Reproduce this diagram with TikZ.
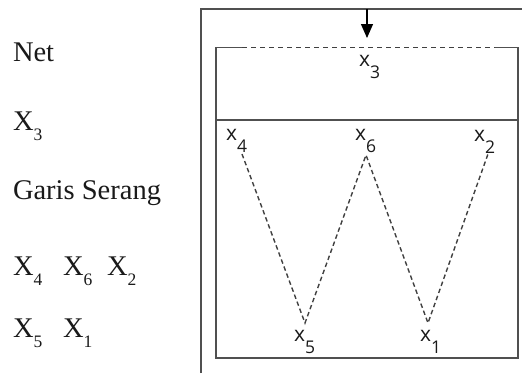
\documentclass[tikz,border=0pt]{standalone}
\usepackage{fontspec}
\setmainfont{Liberation Serif}
\newfontfamily\labfont{Open Sans}
\usetikzlibrary{arrows.meta}
\definecolor{linegray}{HTML}{505050}
\definecolor{dashgray}{HTML}{404040}
\definecolor{txt}{HTML}{1A1A1A}
\tikzset{
  lefttext/.style={anchor=base west, inner sep=0pt, outer sep=0pt, text=txt, font=\fontsize{28.5}{28.5}\selectfont},
  boxlab/.style={anchor=base west, inner sep=0pt, outer sep=0pt, text=txt, font=\labfont\fontsize{21}{21}\selectfont},
  frame/.style={draw=linegray, line width=1.7pt},
  wline/.style={draw=dashgray, line width=1.4pt, dash pattern=on 4.5pt off 3pt},
}
\newcommand{\lsub}[1]{\raisebox{-10pt}{\fontsize{17.5}{17.5}\selectfont #1}}
\newcommand{\bsub}[1]{\raisebox{-12.5pt}{\fontsize{17.5}{17.5}\selectfont #1}}
\begin{document}
\begin{tikzpicture}[x=1pt,y=-1pt]
\useasboundingbox (0,0) rectangle (522,373);
% left legend
\node[lefttext] (tnet) at (13,61) {Net};
\node[lefttext] (tx3) at (13,130) {X\lsub{3}};
\node[lefttext] (tgs) at (13,199) {Garis Serang};
\node[lefttext] (tx4) at (13,275) {X\lsub{4}};
\node[lefttext] (tx6) at (63,275) {X\lsub{6}};
\node[lefttext] (tx2) at (107,275) {X\lsub{2}};
\node[lefttext] (tx5) at (13,337) {X\lsub{5}};
\node[lefttext] (tx1) at (63,337) {X\lsub{1}};
% outer frame
\coordinate (ob) at (201,373);
\coordinate (ot) at (201,9);
\coordinate (or) at (522,9);
\draw[frame] (ob) -- (ot) -- (or);
% inner box
\coordinate (itl) at (216,47.5);
\coordinate (itr) at (518,47.5);
\coordinate (ibl) at (216,358);
\coordinate (ibr) at (518,358);
\coordinate (d1) at (242,47.5);
\coordinate (d2) at (495,47.5);
\coordinate (ml) at (216,120);
\coordinate (mr) at (518,120);
\draw[frame] (d1) -- (itl) -- (ibl) -- (ibr) -- (itr) -- (d2);
\draw[draw=dashgray, line width=1.6pt, dash pattern=on 5pt off 4pt] (d1) -- (d2);
\draw[frame] (ml) -- (mr);
% arrow
\coordinate (as) at (367,9);
\coordinate (ae) at (367,38);
\draw[line width=1.3pt, -{Triangle[length=14pt,width=12pt]}, color=black] (as) -- (ae);
% labels in box
\node[boxlab] (lx3) at (359,66) {x\bsub{3}};
\node[boxlab] (lx4) at (226,140) {x\bsub{4}};
\node[boxlab] (lx6) at (355,140) {x\bsub{6}};
\node[boxlab] (lx2) at (474,141) {x\bsub{2}};
\node[boxlab] (lx5) at (294,341) {x\bsub{5}};
\node[boxlab] (lx1) at (420,341) {x\bsub{1}};
% W connectors
\coordinate (c4) at (242,154);
\coordinate (c5) at (305,323);
\coordinate (c6) at (366,155);
\coordinate (c1) at (428,323);
\coordinate (c2) at (488,154);
\draw[wline] (c4) -- (c5) -- (c6) -- (c1) -- (c2);
\end{tikzpicture}
\end{document}
